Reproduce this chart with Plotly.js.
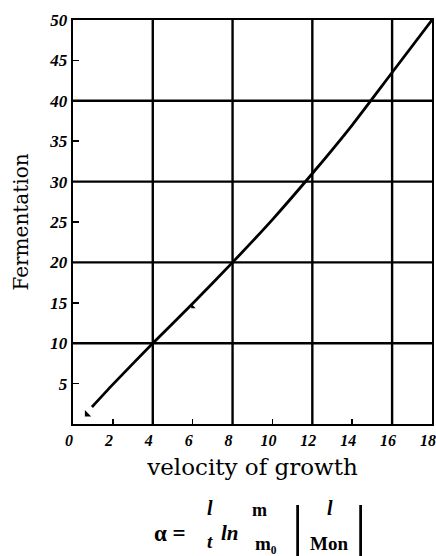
<!DOCTYPE html>
<html>
<head>
<meta charset="utf-8">
<script src="https://cdn.plot.ly/plotly-3.0.1.min.js"></script>
<style>html,body{margin:0;padding:0;background:#fff;}#chart{width:436px;height:556px;}</style>
</head>
<body>
<div id="chart"></div>
<script>
// Data
const velocity = [0.95, 2, 4, 6, 8, 10, 12, 14, 16, 18];
const fermentation = [2.1, 4.9, 10, 14.9, 20, 25.3, 31, 37, 43.5, 50];
const startMarkX = [0.7];
const startMarkY = [1.2];
const midMarkX = [6];
const midMarkY = [14.5];
const xTickVals = [0, 2, 4, 6, 8, 10, 12, 14, 16, 18];
const yTickVals = [5, 10, 15, 20, 25, 30, 35, 40, 45, 50];
const xGrid = [4, 8, 12, 16];
const yGrid = [10, 20, 30, 40];

const serif = "Liberation Serif, DejaVu Serif, serif";
const wideSerif = "DejaVu Serif, Liberation Serif, serif";

const traces = [
  {x: velocity, y: fermentation, mode: 'lines', type: 'scatter',
   line: {color: '#000', width: 2.8, shape: 'spline', smoothing: 0.6},
   hoverinfo: 'skip', showlegend: false, cliponaxis: false},
  {x: startMarkX, y: startMarkY, mode: 'markers', type: 'scatter',
   marker: {symbol: 'triangle-sw', size: 7, color: '#000'}, showlegend: false, cliponaxis: false},
  {x: midMarkX, y: midMarkY, mode: 'markers', type: 'scatter',
   marker: {symbol: 'triangle-sw', size: 5, color: '#000'}, showlegend: false}
];

const shapes = [];
xGrid.forEach(v => shapes.push({type: 'line', xref: 'x', yref: 'y', x0: v, x1: v, y0: 0, y1: 50,
  line: {color: '#000', width: 2.4}, layer: 'below'}));
yGrid.forEach(v => shapes.push({type: 'line', xref: 'x', yref: 'y', x0: 0, x1: 18, y0: v, y1: v,
  line: {color: '#000', width: 2.4}, layer: 'below'}));

function px2paperX(px){ return (px - 73) / 359; }
function px2paperY(py){ return (424 - py) / 404; }
function ann(text, px, py, size, family){
  return {xref: 'paper', yref: 'paper', x: px2paperX(px), y: px2paperY(py),
    text: text, showarrow: false, xanchor: 'center', yanchor: 'middle',
    font: {family: family || serif, size: size, color: '#000'}};
}
const annotations = [
  ann('<b>α =</b>', 170, 533, 23),
  ann('<i><b>l</b></i>', 210, 508, 20),
  ann('<i><b>t</b></i>', 210, 541, 19),
  ann('<i><b>ln</b></i>', 230, 533, 21),
  ann('<b>m</b>', 259, 510, 18),
  ann('<b>m₀</b>', 266, 543, 19),
  ann('|', 297, 526, 56),
  ann('<i><b>l</b></i>', 330, 508, 20),
  ann('<b>Mon</b>', 329, 543, 19),
  ann('|', 360, 526, 56)
];

const layout = {
  width: 436, height: 556,
  margin: {l: 73, r: 4, t: 20, b: 132},
  paper_bgcolor: '#fff', plot_bgcolor: '#fff',
  showlegend: false,
  xaxis: {
    range: [0, 18], tickvals: xTickVals, ticktext: xTickVals.map(v => '<b><i>' + v + '</i></b>'),
    ticks: 'inside', ticklen: 5, tickwidth: 1.5, tickcolor: '#000',
    ticklabeloverflow: 'allow', ticklabelshift: -4,
    showgrid: false, zeroline: false,
    showline: true, linecolor: '#000', linewidth: 2.4, mirror: true,
    tickfont: {family: serif, size: 16, color: '#000'},
    title: {text: 'velocity of growth', font: {family: wideSerif, size: 23, color: '#000'}, standoff: 12}
  },
  yaxis: {
    range: [0, 50], tickvals: yTickVals, ticktext: yTickVals.map(v => '<b><i>' + v + '</i></b>'),
    ticks: 'inside', ticklen: 6, tickwidth: 1.5, tickcolor: '#000',
    ticklabeloverflow: 'allow',
    showgrid: false, zeroline: false,
    showline: true, linecolor: '#000', linewidth: 2.4, mirror: true,
    tickfont: {family: serif, size: 17, color: '#000'},
    title: {text: 'Fermentation', font: {family: wideSerif, size: 20, color: '#000'}, standoff: 15}
  },
  shapes: shapes,
  annotations: annotations
};

Plotly.newPlot('chart', traces, layout, {displayModeBar: false, staticPlot: true});
</script>
</body>
</html>
